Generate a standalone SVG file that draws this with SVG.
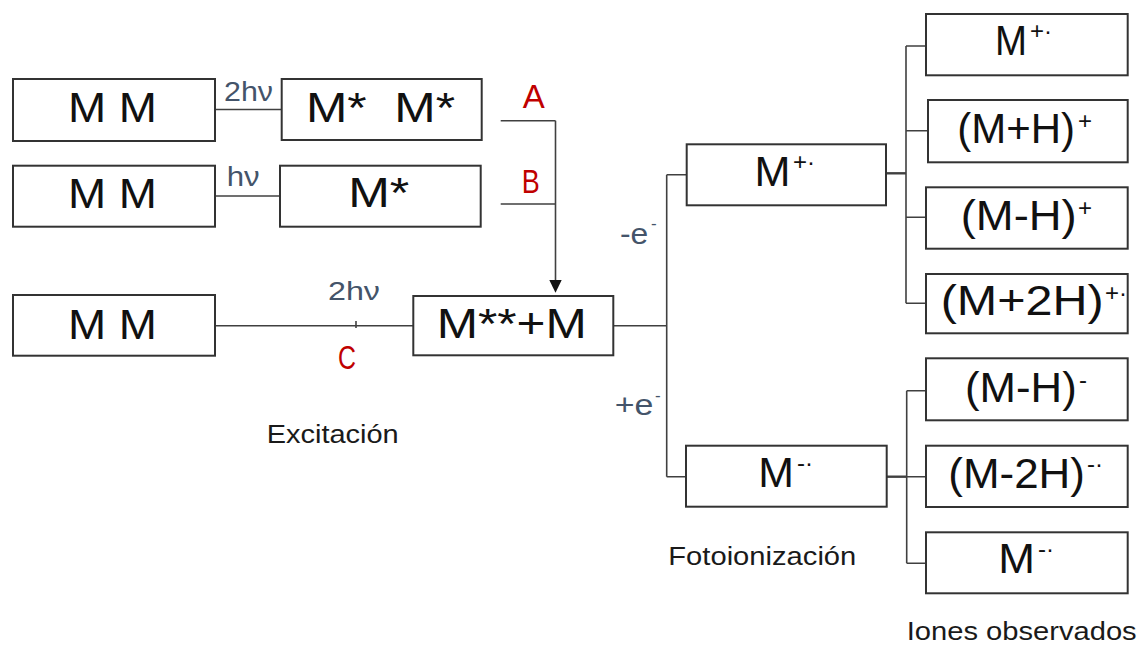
<svg xmlns="http://www.w3.org/2000/svg" width="1142" height="646" viewBox="0 0 1142 646">
<style>
.box{fill:#fff;stroke:#333;stroke-width:2}
.big{font-family:"Liberation Sans",Arial,sans-serif;font-size:42px;fill:#111}
.sup{font-size:24px}
.lbl{font-family:"Liberation Sans",Arial,sans-serif;font-size:27px;fill:#44546a}
.red{font-family:"Liberation Sans",Arial,sans-serif;font-size:33px;fill:#c00000}
.cap{font-family:"Liberation Sans",Arial,sans-serif;font-size:25px;fill:#1a1a1a}
.ln{fill:none;stroke:#404040;stroke-width:1.6}
</style>
<rect width="1142" height="646" fill="#fff"/>
<g id="connectors">
<path class="ln" d="M215,109.5 H281"/>
<path class="ln" d="M215,196 H280"/>
<path class="ln" d="M215,325.7 H413"/>
<path class="ln" d="M356,321 V328"/>
<path class="ln" d="M500.7,120.7 H555.5 M500.7,204 H555.5"/>
<path class="ln" d="M555.5,120.7 V280" />
<path d="M549.3,280 L561.7,280 L555.5,292.7 Z" fill="#111"/>
<path class="ln" d="M613.3,325.7 H666.7 M666.7,174.7 V476.7 M666.7,174.7 H686.7 M666.7,476.7 H686"/>
<path class="ln" style="stroke-width:2.4" d="M886,173.3 H906"/>
<path class="ln" d="M906,46 V303.3 M906,46 H926 M906,130.7 H928 M906,217.3 H926 M906,303.3 H926"/>
<path class="ln" style="stroke-width:2.4" d="M886.7,476.7 H906.7"/>
<path class="ln" d="M906.7,390.7 V563.3 M906.7,390.7 H926 M906.7,476.7 H926 M906.7,563.3 H926"/>
</g>
<g id="mm1"><rect class="box" x="13" y="79" width="202" height="62"/><text class="big" x="68" y="122" textLength="89" lengthAdjust="spacingAndGlyphs">M M</text></g>
<g id="mstar2"><rect class="box" x="281.7" y="79" width="200" height="61"/><text class="big" x="306" y="121.7" textLength="149" lengthAdjust="spacingAndGlyphs" xml:space="preserve">M*  M*</text></g>
<g id="mm2"><rect class="box" x="13" y="165.7" width="202" height="61"/><text class="big" x="68" y="208.3" textLength="89" lengthAdjust="spacingAndGlyphs">M M</text></g>
<g id="mstar1"><rect class="box" x="280" y="165.7" width="200.7" height="61"/><text class="big" x="348.3" y="206.7" textLength="61" lengthAdjust="spacingAndGlyphs">M*</text></g>
<g id="mm3"><rect class="box" x="13" y="295" width="202" height="60.7"/><text class="big" x="68" y="339" textLength="89" lengthAdjust="spacingAndGlyphs">M M</text></g>
<g id="mss"><rect class="box" x="413.3" y="296" width="200" height="59.3"/><text class="big" x="436.7" y="337.7" textLength="150" lengthAdjust="spacingAndGlyphs">M**+M</text></g>
<g id="mplus"><rect class="box" x="686.7" y="144.3" width="199.3" height="61"/><text class="big" x="754.5" y="185.7"><tspan textLength="36" lengthAdjust="spacingAndGlyphs">M</tspan><tspan class="sup" x="793" y="169.5">+·</tspan></text></g>
<g id="mminus"><rect class="box" x="686" y="445.7" width="200.7" height="61"/><text class="big" x="758.3" y="487.3"><tspan textLength="35.7" lengthAdjust="spacingAndGlyphs">M</tspan><tspan class="sup" x="797" y="471">-·</tspan></text></g>
<g id="ion1"><rect class="box" x="926" y="14" width="201.7" height="61.3"/><text class="big" x="995" y="55"><tspan textLength="32" lengthAdjust="spacingAndGlyphs">M</tspan><tspan class="sup" x="1030" y="39">+·</tspan></text></g>
<g id="ion2"><rect class="box" x="928" y="100" width="199.7" height="62.3"/><text class="big" x="957.3" y="143.3"><tspan textLength="117.7" lengthAdjust="spacingAndGlyphs">(M+H)</tspan><tspan class="sup" x="1078" y="129">+</tspan></text></g>
<g id="ion3"><rect class="box" x="926" y="187.3" width="201.7" height="61.4"/><text class="big" x="960.7" y="230"><tspan textLength="116" lengthAdjust="spacingAndGlyphs">(M-H)</tspan><tspan class="sup" x="1078" y="216">+</tspan></text></g>
<g id="ion4"><rect class="box" x="926" y="274" width="201.7" height="59.3"/><text class="big" x="940.7" y="315"><tspan textLength="163" lengthAdjust="spacingAndGlyphs">(M+2H)</tspan><tspan class="sup" x="1105" y="301">+·</tspan></text></g>
<g id="ion5"><rect class="box" x="926" y="358.3" width="201.7" height="62"/><text class="big" x="965" y="401.7"><tspan textLength="111.7" lengthAdjust="spacingAndGlyphs">(M-H)</tspan><tspan class="sup" x="1079" y="388">-</tspan></text></g>
<g id="ion6"><rect class="box" x="926" y="445.7" width="201.7" height="61.3"/><text class="big" x="948.3" y="488.3"><tspan textLength="136.7" lengthAdjust="spacingAndGlyphs">(M-2H)</tspan><tspan class="sup" x="1087" y="472">-·</tspan></text></g>
<g id="ion7"><rect class="box" x="926" y="532.3" width="201.7" height="61"/><text class="big" x="998.3" y="573.3"><tspan textLength="36.7" lengthAdjust="spacingAndGlyphs">M</tspan><tspan class="sup" x="1038" y="557">-·</tspan></text></g>
<g id="labels">
<text class="lbl" x="224" y="100.7" textLength="49" lengthAdjust="spacingAndGlyphs">2hν</text>
<text class="lbl" x="226.7" y="186" textLength="33" lengthAdjust="spacingAndGlyphs">hν</text>
<text class="lbl" style="font-size:25px" x="328" y="300" textLength="52" lengthAdjust="spacingAndGlyphs">2hν</text>
<text class="red" x="522.7" y="108">A</text>
<text class="red" x="521.7" y="193" textLength="18" lengthAdjust="spacingAndGlyphs">B</text>
<text class="red" x="338" y="369" textLength="18" lengthAdjust="spacingAndGlyphs">C</text>
<text class="lbl" style="font-size:29px" x="620" y="244"><tspan textLength="28.3" lengthAdjust="spacingAndGlyphs">-e</tspan><tspan x="651" y="229" style="font-size:17px">-</tspan></text>
<text class="lbl" style="font-size:29px" x="614.8" y="415"><tspan textLength="38.7" lengthAdjust="spacingAndGlyphs">+e</tspan><tspan x="655" y="401" style="font-size:17px">-</tspan></text>
<text class="cap" x="266.7" y="442.7" textLength="132" lengthAdjust="spacingAndGlyphs">Excitación</text>
<text class="cap" x="668.3" y="565" textLength="188" lengthAdjust="spacingAndGlyphs">Fotoionización</text>
<text class="cap" x="906.7" y="640" textLength="230" lengthAdjust="spacingAndGlyphs">Iones observados</text>
</g>
</svg>
